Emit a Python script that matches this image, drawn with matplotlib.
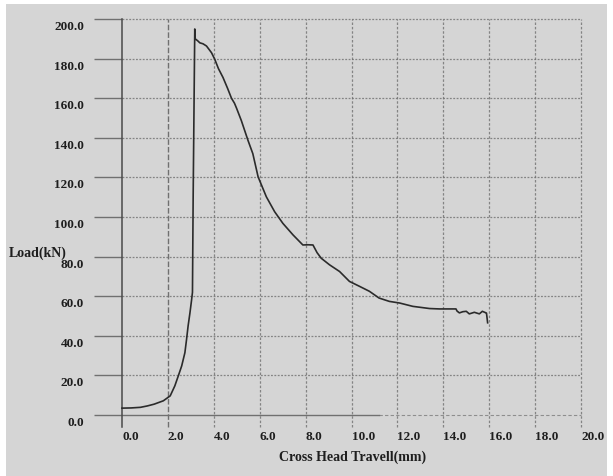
import matplotlib
matplotlib.use("Agg")
import matplotlib.pyplot as plt
from matplotlib.patches import Rectangle
from matplotlib.transforms import ScaledTranslation

# data
travel_mm = [0.0, 0.4, 0.8, 1.1, 1.4, 1.8, 2.1, 2.3, 2.45, 2.6, 2.74, 2.81, 2.88,
             2.96, 3.03, 3.07, 3.10, 3.17, 3.19, 3.3, 3.39, 3.53, 3.68, 3.9, 4.04,
             4.2, 4.4, 4.6, 4.77, 4.9, 4.99, 5.2, 5.49, 5.7, 5.93, 6.29, 6.65, 7.01,
             7.45, 7.88, 8.1, 8.32, 8.5, 8.68, 9.04, 9.48, 9.91, 10.35, 10.78, 11.2,
             11.65, 12.09, 12.67, 13.4, 13.83, 14.55, 14.6, 14.7, 14.85, 15.0, 15.13,
             15.27, 15.35, 15.57, 15.7, 15.86, 15.88, 15.93]
load_kn = [3.5, 3.6, 3.9, 4.6, 5.5, 7.2, 9.7, 14.7, 19.7, 24.8, 31.5, 38.0, 45.0,
           51.6, 58.0, 62.0, 110.0, 195.0, 190.0, 189.0, 188.0, 187.5, 186.4, 183.0,
           179.7, 175.0, 170.5, 165.0, 160.0, 157.5, 155.0, 148.7, 138.7, 132.0,
           120.3, 110.2, 102.7, 96.8, 91.0, 85.9, 86.0, 85.9, 82.0, 79.2, 75.9, 72.5,
           67.5, 65.0, 62.5, 59.1, 57.4, 56.6, 54.9, 53.8, 53.6, 53.6, 52.5, 51.6,
           52.2, 52.4, 51.1, 51.6, 51.9, 51.1, 52.4, 51.6, 51.5, 46.6]

x_ticks = [0.0, 2.0, 4.0, 6.0, 8.0, 10.0, 12.0, 14.0, 16.0, 18.0, 20.0]
y_ticks = [0.0, 20.0, 40.0, 60.0, 80.0, 100.0, 120.0, 140.0, 160.0, 180.0, 200.0]

BG = "#d5d5d5"
GRID = "#707070"
INK = "#1e1e1e"
FONT = ["Liberation Serif", "DejaVu Serif"]

fig = plt.figure(figsize=(6.13, 4.77), dpi=100)
fig.patch.set_facecolor("white")
fig.add_artist(Rectangle((6 / 613, 0), 601 / 613, 472 / 477,
                         transform=fig.transFigure, facecolor=BG,
                         edgecolor="none", zorder=0))

ax = fig.add_axes([0.1541, 0.0987, 0.805, 0.8717])
ax.set_facecolor("none")
ax.set_xlim(-1.2, 20.3)
ax.set_ylim(-7, 203)
ax.axis("off")

# horizontal grid: solid stub left of x=0, dotted across the field
for y in y_ticks:
    ax.plot([-1.2, 0], [y, y], color=GRID, lw=1.0, solid_capstyle="butt")
    if y == 0.0:
        ax.plot([0, 11.2], [y, y], color=GRID, lw=1.0)
        ax.plot([11.2, 20], [y, y], color=GRID, lw=0.8, ls=(0, (3, 2)), alpha=0.7)
    else:
        ax.plot([0, 20], [y, y], color=GRID, lw=0.9, ls=(0, (1.5, 1.2)), alpha=0.8)

# vertical grid
for x in x_ticks:
    if x == 0.0:
        ax.plot([x, x], [-6, 200], color="#4a4a4a", lw=1.1)
    elif x == 2.0:
        ax.plot([x, x], [-6, 200], color=GRID, lw=1.0, ls=(0, (4, 1.5)))
    else:
        ax.plot([x, x], [-6, 200], color=GRID, lw=0.9, ls=(0, (2, 1.5)), alpha=0.8)

ax.plot(travel_mm, load_kn, color="#2b2b2b", lw=1.2, zorder=5)

# tick labels: y labels sit a little below their lines, x labels start at the tick
down = ScaledTranslation(0, -7 / 100, fig.dpi_scale_trans)
for y in y_ticks:
    ax.text(-1.65, y, f"{y:.1f}", ha="right", va="center", fontsize=9.5,
            fontweight="bold", family=FONT, color=INK,
            transform=ax.transData + down)
for x in x_ticks:
    ax.text(x, -10.5, f"{x:.1f}", ha="left", va="center", fontsize=9.5,
            fontweight="bold", family=FONT, color=INK)

fig.text(9 / 613, 1 - 253 / 477, "Load(kN)", ha="left", va="center",
         fontsize=10, fontweight="bold", family=FONT, color=INK)
fig.text(353 / 613, 1 - 457 / 477, "Cross Head Travell(mm)", ha="center",
         va="center", fontsize=10, fontweight="bold", family=FONT, color=INK)

fig.savefig("out.png", dpi=100)
